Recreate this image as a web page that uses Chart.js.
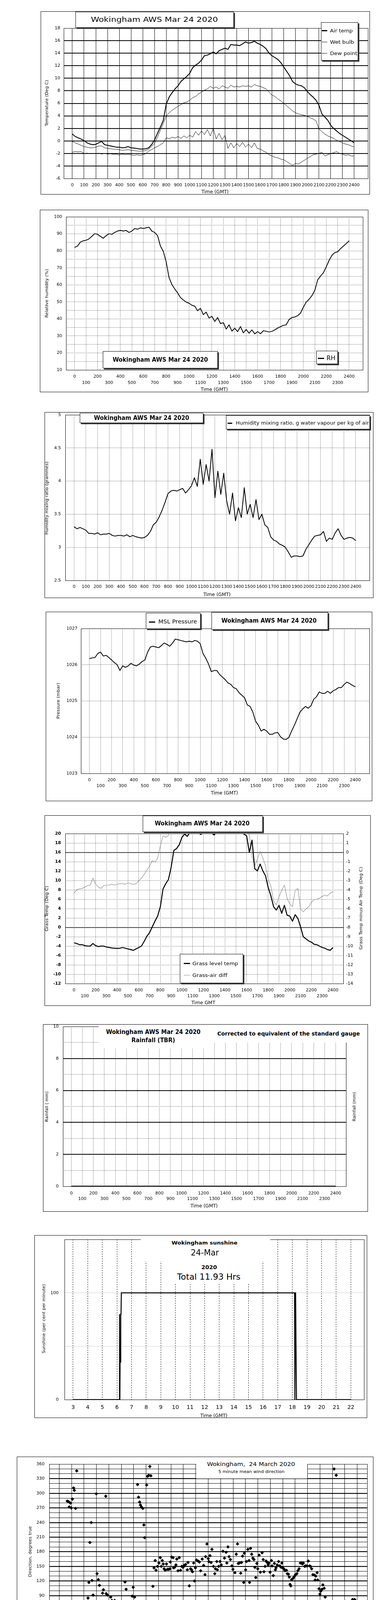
<!DOCTYPE html>
<html>
<head>
<meta charset="utf-8">
<title>Wokingham AWS Mar 24 2020</title>
<script src="https://cdn.jsdelivr.net/npm/chart.js@4.4.1/dist/chart.umd.min.js"></script>
<style>
  html, body { margin:0; padding:0; background:#fff; }
  #stage { position:relative; width:1000px; height:5000px; overflow:hidden; background:#fff; font-family:"DejaVu Sans", Arial, sans-serif; color:#000; }
  .frame { position:absolute; border:1px solid #000; box-sizing:border-box; z-index:0; }
  canvas { position:absolute; z-index:1; }
  .box { position:absolute; background:#fff; box-sizing:border-box; z-index:2; }
  .t { position:absolute; white-space:pre; line-height:1; z-index:3; }
  .sw { position:absolute; z-index:3; }
</style>
</head>
<body>
<div id="stage"></div>
<script>
// ------------------------------------------------------------------
// DATA
// ------------------------------------------------------------------
// time axis categories: quarter-hour steps, in "hour x 100" (0..2400)
const quarterHourTimes = [];
for (let i = 0; i <= 96; i++) quarterHourTimes.push(i * 25);
// same in hours (wind chart)
const quarterHours = [];
for (let i = 0; i <= 96; i++) quarterHours.push(i / 4);
const tenMinuteHours = [];
for (let i = 0; i <= 144; i++) tenMinuteHours.push(i / 6);

// tick labels
const hundredTicks = [0,100,200,300,400,500,600,700,800,900,1000,1100,1200,1300,1400,1500,1600,1700,1800,1900,2000,2100,2200,2300,2400];
const tempTicks = [-6,-4,-2,0,2,4,6,8,10,12,14,16,18];
const rhTicks = [10,15,20,25,30,35,40,45,50,55,60,65,70,75,80,85,90,95,100];
const mixTicks = [2.5,3,3.5,4,4.5,5];
const pressTicks = [1023,1024,1025,1026,1027];
const grassTicks = [-12,-10,-8,-6,-4,-2,0,2,4,6,8,10,12,14,16,18,20];
const diffTicks = [-14,-13,-12,-11,-10,-9,-8,-7,-6,-5,-4,-3,-2,-1,0,1,2];
const rainTicks = [0,1,2,3,4,5,6,7,8,9,10];
const sunHourTicks = [3,4,5,6,7,8,9,10,11,12,13,14,15,16,17,18,19,20,21,22];
const sunTicks = [0,50,100,150];
const dirHourTicks = [0,1,2,3,4,5,6,7,8,9,10,11,12,13,14,15,16,17,18,19,20,21,22,23,24];
const dirTicks = [0,10,20,30,40,50,60,70,80,90,100,110,120,130,140,150,160,170,180,190,200,210,220,230,240,250,260,270,280,290,300,310,320,330,340,350,360];
const speedHourTicks = [0,1,2,3,4,5,6,7,8,9,10,11,12,13,14,15,16,17,18,19,20,21,22,23];
const speedTicks = [0,5,10,15,20,25,30,35,40,45,50];

// Chart 1: temperatures (Deg C), every 15 min
const airTemp = [1.1,0.7,0.5,0.3,0.05,-0.3,-0.5,-0.6,-0.55,-0.3,
 -0.1,-0.6,-0.7,-0.8,-0.9,-1.0,-1.0,-1.1,-1.05,-0.9,
 -1.1,-1.15,-1.2,-1.3,-1.3,-1.25,-1.1,-0.6,0.15,1.2,
 2.2,3.3,5.9,7.0,7.7,8.3,8.8,9.5,9.9,10.3,
 10.8,11.7,12.1,12.4,12.9,13.6,13.7,13.9,14.2,13.9,
 14.4,14.6,14.8,14.6,15.4,15.3,15.3,15.2,15.5,15.8,
 15.6,15.7,15.9,15.6,15.4,15.1,14.7,14.0,13.6,13.3,
 13.0,12.5,11.8,11.1,10.4,9.5,9.1,8.9,8.8,8.5,
 7.9,7.4,7.0,6.5,5.7,4.3,3.8,3.3,2.5,2.0,
 1.6,1.2,0.9,0.6,0.3,0.0,-0.3];
const wetBulb = [-0.1,-0.3,-0.5,-0.7,-0.9,-1.0,-1.1,-1.1,-1.0,-0.8,
 -0.8,-1.1,-1.2,-1.25,-1.3,-1.35,-1.4,-1.5,-1.45,-1.4,
 -1.5,-1.55,-1.6,-1.65,-1.6,-1.55,-1.3,-0.9,-0.4,0.6,
 1.7,2.8,4.0,4.5,4.9,5.2,5.5,5.8,6.1,6.2,
 6.5,6.9,7.1,7.5,7.8,8.1,8.3,8.7,8.4,8.6,
 8.3,8.8,8.6,8.4,8.9,8.6,8.7,8.6,8.8,8.7,
 8.8,8.6,9.0,8.8,8.7,8.5,8.3,7.8,7.3,7.1,
 6.7,6.4,6.0,5.6,5.2,4.8,4.5,4.3,4.2,4.1,
 3.9,3.7,3.5,3.2,1.9,1.5,1.1,0.8,0.6,0.4,
 0.1,-0.1,-0.3,-0.5,-0.6,-0.8,-1.0];
const dewPoint = [-1.8,-1.7,-1.75,-1.7,-2.0,-1.95,-2.05,-2.0,-2.0,-1.95,
 -2.1,-2.0,-2.1,-2.05,-2.15,-2.1,-2.25,-2.1,-2.2,-2.15,
 -2.2,-2.3,-2.2,-2.3,-2.2,-2.05,-1.6,-1.4,-1.1,-0.9,
 -0.6,-0.3,0.5,0.35,0.6,0.45,0.7,0.4,0.8,0.5,
 0.9,0.6,1.5,0.9,1.6,1.0,1.8,0.8,2.0,0.3,
 1.2,0.2,0.9,-1.2,-0.3,-1.1,-0.4,-0.9,-0.2,-1.0,
 -0.5,-1.1,-0.3,-1.2,-1.3,-1.6,-1.8,-2.2,-2.4,-2.6,
 -2.7,-2.9,-3.0,-3.3,-3.6,-3.9,-3.6,-3.7,-3.4,-3.1,
 -2.8,-2.5,-2.2,-2.1,-2.0,-1.8,-2.4,-2.2,-2.0,-1.9,
 -1.7,-2.0,-2.1,-2.3,-2.2,-2.4,-2.4];

// Chart 2: relative humidity (%)
const relHumidity = [82,82.8,85.1,85.9,86.2,87,88.5,90.1,89.7,88.5,
 87.4,88.9,90.1,89.7,90.8,91.6,92,91.6,92,90.8,
 91.6,93.1,92.7,93.5,93.1,93.5,93.9,91.6,90.8,88.9,
 82.8,79.7,73.6,64.4,60.2,57.6,55.3,52.6,51.1,49.9,
 49.2,48,47.5,44.8,46.2,42.5,44.0,40.5,41.5,38.5,
 40.8,37.2,37.8,34.0,36.5,32.8,34.5,32.5,35.5,31.8,
 33.8,31.6,33.5,31.2,32.5,31.3,33.0,32.7,32.3,32.7,
 33.5,34.6,35.4,36.2,36.5,39.6,40.8,41.1,41.9,43.4,
 46.9,49.9,51.5,53.7,56.8,62.9,65.2,67.1,70.6,74.4,
 77.4,79,79.4,81.3,82.8,84.3,85.9];

// Chart 3: humidity mixing ratio (g/kg)
const mixingRatio = [3.31,3.28,3.30,3.28,3.26,3.21,3.21,3.20,3.22,3.19,
 3.20,3.20,3.21,3.18,3.17,3.18,3.18,3.17,3.19,3.16,
 3.18,3.16,3.15,3.14,3.15,3.18,3.24,3.34,3.38,3.46,
 3.56,3.68,3.81,3.85,3.86,3.85,3.87,3.89,3.82,3.87,
 3.93,4.05,3.92,4.33,3.95,4.25,4.0,4.48,3.75,4.15,
 3.8,4.12,3.7,3.5,3.82,3.4,3.6,3.45,3.9,3.5,
 3.65,3.45,3.72,3.42,3.5,3.34,3.30,3.16,3.11,3.09,
 3.05,3.03,3.00,2.93,2.85,2.87,2.87,2.86,2.87,2.97,
 3.04,3.11,3.17,3.18,3.19,3.24,3.09,3.14,3.12,3.22,
 3.28,3.18,3.12,3.14,3.15,3.14,3.10];

// Chart 4: MSL pressure (mbar)
const mslPressure = [1026.17,1026.19,1026.20,1026.31,1026.35,1026.24,1026.26,1026.20,1026.13,1026.06,
 1026.00,1025.84,1025.97,1025.93,1025.97,1026.04,1025.99,1025.97,1026.02,1026.09,
 1026.13,1026.35,1026.49,1026.51,1026.49,1026.47,1026.53,1026.60,1026.56,1026.51,
 1026.60,1026.71,1026.69,1026.67,1026.65,1026.63,1026.65,1026.63,1026.67,1026.65,
 1026.58,1026.31,1026.18,1026.02,1025.81,1025.84,1025.84,1025.73,1025.66,1025.59,
 1025.50,1025.46,1025.37,1025.34,1025.23,1025.16,1025.09,1024.89,1024.85,1024.69,
 1024.44,1024.33,1024.17,1024.22,1024.17,1024.08,1024.08,1024.12,1024.13,1024.01,
 1023.95,1023.94,1023.99,1024.17,1024.33,1024.51,1024.69,1024.78,1024.85,1024.80,
 1024.87,1025.05,1025.12,1025.25,1025.21,1025.21,1025.27,1025.21,1025.28,1025.32,
 1025.37,1025.37,1025.46,1025.52,1025.48,1025.43,1025.39];

// Chart 5: grass temperature (left axis) and grass minus air (right axis)
const grassTemp = [-3.3,-3.45,-3.7,-3.7,-3.9,-4.0,-4.0,-3.45,-3.9,-4.1,
 -4.0,-4.0,-4.2,-4.3,-4.4,-4.45,-4.5,-4.45,-4.3,-4.45,
 -4.6,-4.75,-4.9,-4.6,-4.3,-4.0,-3.0,-1.9,-1.15,0.1,
 1.3,2.4,4.4,8.2,9.3,10.2,12.8,16.4,16.8,17.6,
 19.2,19.9,19.4,20.3,20.2,20.4,20.3,19.8,20.3,20.2,
 20.4,20.1,19.7,20.6,21.0,21.5,21.8,22.0,21.6,21.4,
 21.0,20.8,20.4,19.9,19.5,16.0,18.6,12.5,12.05,13.5,
 12.05,11.0,8.5,6.7,4.4,3.7,4.7,3.0,4.7,2.6,
 2.4,1.3,2.7,1.9,0.1,-2.0,-2.45,-2.9,-3.15,-3.6,
 -3.7,-4.0,-4.3,-4.45,-4.75,-4.9,-4.3];
const grassAirDiff = [-4.35,-4.0,-3.9,-3.85,-3.7,-3.55,-3.5,-2.75,-3.4,-3.7,
 -3.85,-3.55,-3.5,-3.5,-3.4,-3.5,-3.4,-3.35,-3.35,-3.4,
 -3.25,-3.35,-3.4,-3.35,-3.05,-2.75,-2.35,-1.9,-1.45,-0.9,
 -1.05,-0.6,0.7,1.75,1.6,1.8,3.6,5.5,6.0,6.3,
 7.0,7.4,7.6,7.5,7.3,7.0,6.8,6.5,6.3,6.4,
 6.2,6.0,5.8,6.2,6.0,6.1,6.3,6.5,6.2,5.8,
 5.5,5.2,4.8,3.5,2.1,1.9,-0.45,-1.45,-0.7,0.1,
 -0.6,-1.45,-2.9,-3.6,-5.2,-5.6,-4.75,-4.05,-3.5,-4.9,
 -5.5,-5.8,-4.05,-3.85,-6.05,-6.35,-6.05,-5.8,-5.35,-5.05,
 -5.0,-4.9,-4.7,-4.55,-4.65,-4.35,-4.2];

// Chart 6: rainfall (mm) - none recorded
const rainTimes = hundredTicks;
const rainfall = [0,0,0,0,0,0,0,0,0,0,0,0,0,0,0,0,0,0,0,0,0,0,0,0,0];

// Chart 7: sunshine (per cent per minute)
const sunTimes = [3,6.17,6.18,6.2,6.22,6.24,6.26,6.28,6.3,6.33,18.15,18.17,18.2,18.22,18.25,18.28,22];
const sunshine = [0,0,80,0,50,35,80,80,100,100,100,0,100,100,48,0,0];

// Chart 8: 5 minute mean wind direction [hour, degrees]
const windDirObs = [[0,63],[0.06,37],[0.14,35],[0.21,33],[0.29,31],[0.37,35],[0.46,38],[0.56,40],[0.65,284],[0.74,283],
 [0.81,272],[0.9,280],[0.97,270],[1.06,288],[1.16,311],[1.22,306],[1.32,269],[1.41,346],[1.47,50],[1.57,63],
 [1.65,76],[1.74,73],[1.82,77],[1.86,72],[1.97,64],[2.05,60],[2.14,64],[2.22,67],[2.32,85],[2.39,117],
 [2.47,199],[2.58,240],[2.64,121],[2.73,91],[2.84,51],[2.89,13],[2.99,299],[3.05,135],[3.15,123],[3.24,111],
 [3.3,47],[3.39,30],[3.49,95],[3.56,102],[3.65,58],[3.75,294],[3.78,94],[3.89,91],[4.02,74],[4.15,87],
 [4.24,80],[4.31,70],[4.38,78],[4.47,80],[4.55,65],[4.66,63],[4.76,61],[4.83,59],[4.94,51],[5.01,50],
 [5.12,50],[5.22,68],[5.3,118],[5.39,103],[5.48,6],[5.57,38],[5.65,50],[5.72,65],[5.81,70],[5.88,89],
 [5.96,107],[6.07,87],[6.14,74],[6.24,3],[6.31,318],[6.39,292],[6.48,282],[6.54,276],[6.62,272],[6.73,269],
 [6.82,235],[6.88,209],[6.99,15],[7.04,317],[7.12,335],[7.21,337],[7.3,355],[7.38,336],[7.49,60],[7.55,109],
 [7.64,147],[7.73,162],[7.8,142],[7.91,150],[8.03,157],[8.14,168],[8.22,150],[8.3,162],[8.38,155],[8.45,145],
 [8.54,142],[8.64,155],[8.72,144],[8.82,144],[8.92,145],[8.95,159],[9.06,169],[9.17,168],[9.21,147],[9.29,148],
 [9.4,153],[9.47,165],[9.57,141],[9.67,168],[9.77,142],[9.87,150],[9.97,148],[10.06,152],[10.18,154],[10.32,143],
 [10.37,158],[10.48,110],[10.58,145],[10.66,143],[10.73,139],[10.83,157],[10.89,120],[10.97,147],[11.05,163],[11.18,161],
 [11.29,159],[11.39,141],[11.52,165],[11.63,152],[11.74,133],[11.79,170],[11.9,196],[12.0,166],[12.05,160],[12.14,172],
 [12.23,158],[12.3,185],[12.42,150],[12.53,135],[12.58,145],[12.69,160],[12.74,143],[12.84,150],[12.95,160],[13.05,153],
 [13.19,181],[13.31,167],[13.44,179],[13.5,157],[13.59,190],[13.68,170],[13.79,164],[13.91,151],[13.99,144],[14.15,137],
 [14.26,175],[14.36,196],[14.42,156],[14.52,157],[14.62,136],[14.68,158],[14.77,171],[14.86,117],[14.91,177],[15.01,143],
 [15.08,160],[15.19,185],[15.29,162],[15.33,117],[15.41,187],[15.5,175],[15.6,167],[15.68,164],[15.76,148],[15.83,127],
 [15.92,156],[15.99,145],[16.1,173],[16.2,138],[16.34,178],[16.43,164],[16.49,139],[16.58,150],[16.66,161],[16.75,158],
 [16.83,153],[16.88,157],[16.98,138],[17.09,162],[17.14,151],[17.24,131],[17.33,156],[17.41,143],[17.46,147],[17.56,153],
 [17.67,160],[17.77,151],[17.88,148],[17.93,157],[18.0,147],[18.09,145],[18.19,141],[18.3,142],[18.37,135],[18.46,134],
 [18.53,128],[18.59,113],[18.65,110],[18.72,123],[18.82,125],[18.93,129],[19.03,133],[19.14,135],[19.22,141],[19.32,145],
 [19.42,157],[19.51,157],[19.59,155],[19.66,157],[19.77,150],[19.84,151],[19.95,151],[20.06,161],[20.16,151],[20.24,150],
 [20.33,145],[20.43,133],[20.56,132],[20.61,122],[20.66,130],[20.77,137],[20.82,122],[20.92,104],[21.0,93],[21.06,99],
 [21.16,103],[21.23,112],[21.34,105],[21.42,87],[21.5,49],[21.6,34],[21.71,51],[21.76,55],[21.84,45],[21.9,31],
 [21.95,20],[22.07,3],[22.14,350],[22.21,5],[22.31,337],[22.39,64],[22.46,37],[22.51,34],[22.62,32],[22.62,64],
 [22.72,77],[22.83,59],[22.88,30],[22.93,61],[23.02,71],[23.09,64],[23.19,62],[23.27,64],[23.34,75],[23.45,75],
 [23.52,71],[23.63,82],[23.74,66],[23.79,82],[23.86,75]];

// Chart 9: wind speed (knots)
const meanSpeed = [2.2,2.0,1.7,0.8,1.0,1.3,1.6,3.0,4.4,4.0,
 2.0,1.0,0.8,1.3,1.0,0.8,2.2,2.7,2.2,1.3,
 0.8,1.0,0.8,1.7,2.4,1.3,1.7,1.0,0.3,1.0,
 0.8,3.6,5.0,6.4,7.8,9.0,8.3,6.2,5.0,6.0,
 5.3,6.4,6.9,6.0,6.9,6.4,7.8,6.9,6.2,7.6,
 7.1,6.4,6.9,6.4,7.1,6.0,6.4,6.0,5.0,5.5,
 3.6,5.0,4.1,5.7,5.5,6.0,5.7,5.3,5.5,4.3,
 3.6,4.1,3.6,3.9,4.1,3.9,4.6,4.1,4.3,4.6,
 3.9,4.1,5.0,4.3,3.6,2.7,1.7,1.3,1.0,1.3,
 1.0,1.5,2.0,2.4,2.0,1.7,1.6];
const gustSpeed = [2.8,2.5,2.6,2.2,2.0,1.5, 1.4,1.8,2.2,1.2,1.0,2.5, 3.8,5.2,4.0,2.0,1.5,2.4,
 1.2,1.5,2.5,1.8,1.2,2.0, 2.8,9.5,3.5,3.2,2.5,1.8, 1.4,2.2,1.5,1.0,2.0,2.8,
 3.2,2.5,1.6,2.4,1.6,1.0, 0.6,1.5,2.0,2.8,6.0,9.0, 10.5,8.0,11.0,9.0,16.0,10.5,
 12.0,8.0,6.5,9.5,7.0,11.5, 8.0,12.5,9.0,11.0,7.5,10.5, 8.5,13.5,9.0,12.0,8.0,14.0,
 9.5,12.5,8.5,11.5,9.0,13.0, 8.0,11.0,14.5,9.5,12.5,8.5, 11.0,9.0,12.0,8.0,10.0,7.0,
 6.0,9.5,7.5,10.5,8.0,11.0, 7.5,12.0,8.5,10.0,7.5,11.5, 6.5,9.0,5.5,7.5,4.5,7.0,
 5.0,6.5,4.5,7.5,5.0,6.5, 7.5,5.0,6.5,4.5,7.0,5.0, 6.0,4.5,7.5,5.5,8.0,6.0,
 5.5,3.5,3.0,2.2,2.5,1.6, 1.4,1.8,1.2,2.0,1.6,2.2, 2.0,2.6,3.0,2.5,2.2,2.0, 1.8];
// speeds below 4 kt shown at x10 scale [hour, value]
const lowSpeedX10 = [[0,24.9],[0.03,23.6],[0.06,22.9],[0.08,22.0],[0.1,21.4],[0.13,20.5],[0.15,19.6],[0.18,18.7],[0.22,18.3],[0.28,17.6],
 [0.33,17.2],[0.38,16.5],[0.43,15.5],[0.49,14.6],[0.56,14.1],[0.61,13.5],[0.66,12.8],[0.67,10.4],[0.69,9.1],[0.71,7.3],
 [0.74,6.0],[0.76,4.7],[0.79,6.7],[0.82,7.3],[0.87,6.0],[0.95,7.8],[1.0,9.1],[1.03,11.7],[1.05,13.9],[1.08,14.6],
 [1.1,13.0],[1.12,10.8],[1.15,10.0],[1.2,8.4],[1.25,8.6],[1.3,8.0],[1.35,7.6],[1.41,6.9],[1.46,6.0],[1.49,5.1],
 [1.53,4.3],[1.56,3.4],[1.59,2.5],[1.61,10.4],[1.64,13.7],[1.66,15.0],[1.67,16.8],[1.69,18.3],[1.71,20.5],[1.73,22.3],
 [1.76,23.1],[1.79,24.0],[1.83,25.8],[1.86,26.9],[1.89,29.3],[1.92,30.6],[1.94,31.5],[1.97,33.2],[2.0,34.5],[2.05,36.3],
 [2.07,38.1],[2.28,39.2],[2.31,37.6],[2.32,34.5],[2.35,31.5],[2.36,29.5],[2.39,27.3],[2.4,25.3],[2.41,23.1],[2.42,20.7],
 [2.43,18.5],[2.45,17.0],[2.48,16.5],[2.49,14.8],[2.53,13.7],[2.58,11.7],[2.61,9.7],[2.63,8.2],[2.65,6.9],[2.68,5.6],
 [2.71,4.5],[2.74,3.8],[2.76,14.1],[2.79,16.8],[2.82,18.3],[2.86,19.6],[2.89,20.9],[2.94,21.4],[2.99,19.6],[3.02,17.9],
 [3.04,14.8],[3.06,12.4],[3.09,10.0],[3.14,9.1],[3.2,8.0],[3.25,9.7],[3.3,10.2],[3.35,9.5],[3.4,10.8],[3.45,12.2],
 [3.5,13.5],[3.53,14.6],[3.55,11.5],[3.57,9.3],[3.6,7.8],[3.66,6.5],[3.71,5.4],[3.72,9.7],[3.76,12.2],[3.81,13.3],
 [3.86,13.7],[3.91,14.6],[3.94,16.1],[3.96,17.6],[4.01,19.2],[4.04,20.1],[4.06,20.9],[4.12,21.2],[4.17,22.3],[4.22,23.1],
 [4.27,24.5],[4.32,24.9],[4.37,25.8],[4.4,26.6],[4.45,27.3],[4.49,28.2],[4.55,29.3],[4.6,28.6],[4.66,27.5],[4.69,26.4],
 [4.73,24.9],[4.76,22.7],[4.78,20.9],[4.79,18.7],[4.8,17.2],[4.83,15.7],[4.87,14.4],[4.89,13.0],[4.94,11.7],[4.99,11.5],
 [5.04,12.6],[5.07,13.9],[5.09,15.0],[5.14,13.0],[5.19,9.7],[5.24,8.6],[5.27,6.9],[5.29,6.7],[5.34,7.8],[5.4,9.1],
 [5.42,10.0],[5.48,9.5],[5.5,8.2],[5.55,6.9],[5.58,5.6],[5.6,4.3],[5.63,11.7],[5.68,14.4],[5.7,16.1],[5.73,17.4],
 [5.78,18.5],[5.8,20.5],[5.83,22.3],[5.85,23.6],[5.88,24.5],[5.91,25.3],[5.96,26.0],[5.99,24.0],[6.01,22.0],[6.03,20.3],
 [6.06,19.2],[6.11,18.5],[6.14,17.9],[6.16,17.0],[6.19,15.7],[6.21,14.4],[6.23,13.3],[6.26,11.7],[6.29,10.0],[6.31,8.6],
 [6.34,7.3],[6.37,6.0],[6.4,4.7],[6.42,8.9],[6.45,11.1],[6.47,13.0],[6.5,14.8],[6.54,16.5],[6.59,18.1],[6.62,17.4],
 [6.67,16.1],[6.7,14.6],[6.72,13.7],[6.77,13.0],[6.81,11.5],[6.83,10.2],[6.85,9.1],[6.88,7.8],[6.91,6.5],[6.93,5.4],
 [6.95,4.5],[6.98,3.4],[7.01,2.5],[7.08,4.7],[7.13,6.5],[7.18,8.0],[7.23,9.7],[7.29,11.1],[7.34,12.4],[7.35,13.0],
 [7.39,10.5],[7.44,9.1],[7.49,7.8],[7.54,6.7],[7.59,5.6],[7.64,4.7],[7.69,14.8],[7.7,16.8],[7.72,19.8],[7.73,21.6],
 [7.76,25.3],[7.77,28.8],[7.78,34.5],[7.83,39.8],
 [14.91,39.1],[14.93,35.3],[14.97,38.2],[14.97,37.0],[14.97,32.8],[14.97,31.6],[15.5,39.1],[15.5,37.9],[15.5,37.0],
 [17.18,38.8],[17.22,37.2],[17.26,36.0],[17.61,38.4],[17.65,37.5],[17.61,35.8],[17.71,39.1],[17.81,39.7],[17.96,39.8],[18.04,37.5],
 [18.04,35.3],[18.1,34.2],[18.1,33.0],[18.2,36.5],[18.2,38.6],[18.3,39.6],[18.4,40.0],[18.49,39.1],[18.59,37.0],[18.59,35.8],
 [18.69,37.7],[18.75,39.1],[18.79,39.6],[19.14,40.0],[19.22,39.1],[19.28,37.7],[19.33,36.5],[19.37,35.1],[19.41,33.9],[19.47,37.9],
 [19.47,39.9],[19.86,39.8],[20.0,38.6],[20.12,37.5],[20.16,34.6],[20.2,33.2],[20.25,31.6],[20.31,36.3],[20.35,37.9],[20.74,38.6],
 [20.78,37.2],[20.84,35.3],[20.9,34.2],[20.94,33.2],[20.98,32.0],[21.04,29.9],[21.04,28.5],[21.1,27.1],[21.13,25.2],[21.13,23.8],
 [21.19,22.4],[21.29,27.6],[21.33,26.2],[21.37,24.3],[21.43,22.4],[21.49,21.0],[21.53,19.4],[21.57,18.0],[21.62,16.8],[21.68,14.9],
 [21.72,13.5],[21.76,12.1],[21.82,10.7],[21.92,12.5],[22.02,11.1],[22.11,9.7],[22.17,8.3],[22.21,7.1],[22.31,13.9],[22.41,7.3],
 [22.47,5.5],[22.5,4.1],[22.6,9.0],[22.66,13.5],[22.74,12.1],[22.8,10.7],[22.9,12.1],[22.94,13.9],[23.0,15.8],[23.05,17.2],
 [23.13,18.7],[23.19,20.1],[23.25,21.5],[23.33,22.2],[23.39,21.0],[23.48,19.6],[23.58,18.7],[23.68,17.7],[23.78,19.6],[23.84,18.4],
 [23.91,16.8],[23.97,15.1],[23.97,14.2]];

// ------------------------------------------------------------------
// HELPERS
// ------------------------------------------------------------------
const FF = '"DejaVu Sans", Arial, sans-serif';
Chart.defaults.font.family = FF;
Chart.defaults.color = '#000';
const stage = document.getElementById('stage');

Chart.register({
  id: 'hlines',
  beforeDatasetsDraw(chart, args, opts) {
    const lines = opts && opts.lines; if (!lines) return;
    const {ctx, chartArea: a} = chart; const sc = chart.scales[opts.scale || 'y'];
    ctx.save();
    for (const l of lines) {
      const w = l.w || 1;
      const y = Math.round(sc.getPixelForValue(l.v)) + (w % 2 ? 0.5 : 0);
      ctx.beginPath(); ctx.lineWidth = w; ctx.strokeStyle = l.c || '#000'; ctx.setLineDash([]);
      ctx.moveTo(a.left, y); ctx.lineTo(a.right, y); ctx.stroke();
    }
    ctx.restore();
  }
});
Chart.register({
  id: 'plotFrame',
  afterDraw(chart) {
    const {ctx, chartArea: a} = chart;
    ctx.save(); ctx.strokeStyle = '#000'; ctx.lineWidth = 1; ctx.setLineDash([]);
    const l = Math.round(a.left), t = Math.round(a.top), r = Math.round(a.right), b = Math.round(a.bottom);
    ctx.strokeRect(l + 0.5, t + 0.5, r - l, b - t);
    ctx.restore();
  }
});

const pts = (xs, ys) => ys.map((y, i) => ({x: xs[i], y}));
const pairPts = arr => arr.map(p => ({x: p[0], y: p[1]}));
function lineDs(data, color, width, extra) {
  return Object.assign({data, showLine: true, borderColor: color, backgroundColor: color, borderWidth: width,
    pointRadius: 0, pointHoverRadius: 0, fill: false, tension: 0, borderJoinStyle: 'round'}, extra || {});
}
function ax(o) {
  return {
    type: 'linear', position: o.pos, min: o.min, max: o.max, bounds: 'data',
    afterBuildTicks: s => { s.ticks = o.ticks.map(v => ({value: v})); },
    ticks: {autoSkip: false, maxRotation: 0, minRotation: 0, padding: o.pad, color: '#000',
      font: {family: FF, size: o.size || 11, weight: o.bold ? 'bold' : 'normal', lineHeight: o.lh || 1.2},
      callback: o.label || (v => String(v))},
    grid: {display: o.grid !== false, drawTicks: false, color: o.gc || '#000', lineWidth: o.gw === undefined ? 1 : o.gw},
    border: {display: false, dash: o.dash || []}
  };
}
function options(scales, plugins) {
  return {responsive: false, animation: false, events: [], scales,
    plugins: Object.assign({legend: {display: false}, tooltip: {enabled: false}}, plugins || {})};
}
const PAD = 14;
function place(frame, plot, cfg, hasY2) {
  const cx = frame[0] - PAD, cy = frame[1] - PAD, cw = frame[2] - frame[0] + 2 * PAD, ch = frame[3] - frame[1] + 2 * PAD;
  const cv = document.createElement('canvas');
  cv.width = cw; cv.height = ch;
  Object.assign(cv.style, {left: cx + 'px', top: cy + 'px', width: cw + 'px', height: ch + 'px'});
  stage.appendChild(cv);
  cfg.options.layout = {padding: {left: 0, top: plot[1] - cy, right: hasY2 ? 0 : (cx + cw - plot[2]), bottom: 0}};
  cfg.options.scales.x.afterFit = s => { s.height = cy + ch - plot[3]; };
  cfg.options.scales.y.afterFit = s => { s.width = plot[0] - cx; };
  if (hasY2) cfg.options.scales.y2.afterFit = s => { s.width = cx + cw - plot[2]; };
  return new Chart(cv, cfg);
}
function el(cls, css) { const d = document.createElement('div'); d.className = cls; Object.assign(d.style, css); stage.appendChild(d); return d; }
function frameBox(x1, y1, x2, y2) { el('frame', {left: x1 + 'px', top: y1 + 'px', width: (x2 - x1) + 'px', height: (y2 - y1) + 'px'}); }
function box(x1, y1, x2, y2, shadow, border) {
  el('box', {left: x1 + 'px', top: y1 + 'px', width: (x2 - x1) + 'px', height: (y2 - y1) + 'px',
    border: border === false ? 'none' : '1px solid #000', boxShadow: shadow ? '3px 3px 0 #3a3a3a' : 'none'});
}
function swatch(x1, y, x2, w, color) { el('sw', {left: x1 + 'px', top: (y - w / 2) + 'px', width: (x2 - x1) + 'px', height: w + 'px', background: color || '#000'}); }
function text(s, x, y, o) {
  o = o || {};
  const d = el('t', {left: x + 'px', top: y + 'px', fontSize: (o.size || 11) + 'px', fontWeight: o.bold ? 'bold' : 'normal'});
  d.textContent = s;
  const sx = o.w ? (o.w / d.offsetWidth) : 1;
  if (o.rot) d.style.transform = 'translate(-50%,-50%) rotate(-90deg) scaleX(' + sx + ')';
  else if (o.left) { d.style.transformOrigin = '0 50%'; d.style.transform = 'translate(0,-50%) scaleX(' + sx + ')'; }
  else d.style.transform = 'translate(-50%,-50%) scaleX(' + sx + ')';
}
const oneRow = v => String(v);
const twoRow = v => ((v / 100) % 2 === 0 ? String(v) : ['', String(v)]);
const DOT = [1, 2];

// ------------------------------------------------------------------
// CHART 1 : temperatures
// ------------------------------------------------------------------
frameBox(104, 29, 946, 498);
place([104, 29, 946, 498], [163, 72, 941, 457], {
  type: 'scatter',
  data: {datasets: [
    lineDs(pts(quarterHourTimes, airTemp), '#000', 2.2),
    lineDs(pts(quarterHourTimes, wetBulb), '#000', 1),
    lineDs(pts(quarterHourTimes, dewPoint), '#000', 1)
  ]},
  options: options({
    x: ax({pos: 'bottom', min: -73, max: 2517, ticks: hundredTicks, pad: 11, lh: '13px', label: oneRow}),
    y: ax({pos: 'left', min: -6, max: 18, ticks: tempTicks, pad: 9,
      gw: c => (c.tick && (c.tick.value <= -6 || c.tick.value >= 18)) ? 0 : 2})
  })
});
box(193, 30, 598, 71, true);
text('Wokingham AWS Mar 24 2020', 395, 50, {size: 18, w: 325});
box(821, 57, 916, 155, true);
swatch(823, 78, 837, 3); text('Air temp', 844, 78, {size: 13, left: true, w: 58});
swatch(823, 107, 837, 1); text('Wet bulb', 844, 107, {size: 13, left: true, w: 62});
swatch(823, 136, 837, 1); text('Dew point', 844, 136, {size: 13, left: true, w: 70});
text('Temperature (Deg C)', 119, 264, {rot: true, w: 118});
text('Time (GMT)', 550, 491, {size: 12, w: 70});

// ------------------------------------------------------------------
// CHART 2 : relative humidity
// ------------------------------------------------------------------
frameBox(102, 537, 942, 1004);
place([102, 537, 942, 1004], [169, 555, 928, 947], {
  type: 'scatter',
  data: {datasets: [lineDs(pts(quarterHourTimes, relHumidity), '#000', 2)]},
  options: options({
    x: ax({pos: 'bottom', min: -75, max: 2520, ticks: hundredTicks, pad: 9, lh: '16px', label: twoRow, dash: DOT}),
    y: ax({pos: 'left', min: 10, max: 100, ticks: rhTicks, pad: 10, dash: DOT, label: v => (v % 10 === 0 ? String(v) : '')})
  })
});
box(263, 899, 557, 943, true);
text('Wokingham AWS Mar 24 2020', 410, 921, {size: 15, bold: true, w: 244});
box(809, 898, 864, 932, true);
swatch(813, 917, 829, 3); text('RH', 835, 917, {size: 15, left: true, w: 23});
text('Relative humidity (%)', 119, 751, {rot: true, w: 125});
text('Time (GMT)', 548, 997, {size: 12, w: 70});

// ------------------------------------------------------------------
// CHART 3 : mixing ratio
// ------------------------------------------------------------------
frameBox(114, 1055, 955, 1531);
place([114, 1055, 955, 1531], [167, 1062, 945, 1486], {
  type: 'scatter',
  data: {datasets: [lineDs(pts(quarterHourTimes, mixingRatio), '#000', 2)]},
  options: options({
    x: ax({pos: 'bottom', min: -75, max: 2517, ticks: hundredTicks, pad: 10, lh: '13px', label: oneRow, dash: DOT}),
    y: ax({pos: 'left', min: 2.5, max: 5, ticks: mixTicks, pad: 11, dash: DOT})
  })
});
box(204, 1057, 520, 1083, true);
text('Wokingham AWS Mar 24 2020', 362, 1070, {size: 15, bold: true, w: 244});
box(578, 1063, 946, 1099, true);
swatch(582, 1083, 594, 3); text('Humidity mixing ratio, g water vapour per kg of air', 603, 1083, {size: 12, left: true, w: 340});
text('Humidity mixing ratio (grammes)', 119, 1275, {rot: true, w: 187});
text('Time (GMT)', 555, 1522, {size: 12, w: 70});

// ------------------------------------------------------------------
// CHART 4 : pressure
// ------------------------------------------------------------------
frameBox(117, 1566, 952, 2051);
place([117, 1566, 952, 2051], [207, 1609, 945, 1980], {
  type: 'scatter',
  data: {datasets: [lineDs(pts(quarterHourTimes, mslPressure), '#000', 2)]},
  options: options({
    x: ax({pos: 'bottom', min: -77, max: 2528, ticks: hundredTicks, pad: 10, lh: '15px', label: twoRow, dash: DOT}),
    y: ax({pos: 'left', min: 1023, max: 1027, ticks: pressTicks, pad: 9, dash: DOT})
  })
});
box(373, 1569, 513, 1610, true);
swatch(381, 1592, 397, 3); text('MSL Pressure', 405, 1591, {size: 14, left: true, w: 99});
box(541, 1567, 839, 1612, true);
text('Wokingham AWS Mar 24 2020', 688, 1589, {size: 15, bold: true, w: 244});
text('Pressure (mbar)', 149, 1794, {rot: true, w: 92});
text('Time (GMT)', 574, 2030, {size: 12, w: 70});

// ------------------------------------------------------------------
// CHART 5 : grass temperature
// ------------------------------------------------------------------
frameBox(114, 2087, 948, 2575);
place([114, 2087, 948, 2575], [167, 2134, 878, 2518], {
  type: 'scatter',
  data: {datasets: [
    lineDs(pts(quarterHourTimes, grassTemp), '#000', 2.5, {yAxisID: 'y'}),
    lineDs(pts(quarterHourTimes, grassAirDiff), '#8a8a8a', 1.2, {yAxisID: 'y2'})
  ]},
  options: options({
    x: ax({pos: 'bottom', min: -81, max: 2496, ticks: hundredTicks, pad: 10, lh: '15px', label: twoRow, dash: DOT}),
    y: ax({pos: 'left', min: -12, max: 20, ticks: grassTicks, pad: 11, bold: true, dash: DOT}),
    y2: ax({pos: 'right', min: -14, max: 2, ticks: diffTicks, pad: 7, grid: false})
  }, {hlines: {scale: 'y', lines: [{v: 0, w: 1.5}, {v: 16, w: 1.5}]}})
}, true);
box(365, 2088, 672, 2130, true);
text('Wokingham AWS Mar 24 2020', 517, 2108, {size: 15, bold: true, w: 243});
box(460, 2442, 622, 2517, true);
swatch(470, 2466, 486, 3); text('Grass level temp', 492, 2466, {size: 13, left: true, w: 117});
swatch(470, 2496, 486, 1, '#8a8a8a'); text('Grass-air diff', 492, 2496, {size: 13, left: true, w: 90});
text('Grass Temp (Deg C)', 119, 2326, {rot: true, w: 117});
text('Grass Temp minus Air Temp (Deg C)', 923, 2325, {rot: true, w: 212});
text('Time GMT', 520, 2567, {size: 12, w: 61});

// ------------------------------------------------------------------
// CHART 6 : rainfall
// ------------------------------------------------------------------
frameBox(110, 2622, 941, 3102);
place([110, 2622, 941, 3102], [161, 2628, 885, 3037], {
  type: 'scatter',
  data: {datasets: [lineDs(pts(rainTimes, rainfall), '#000', 3)]},
  options: options({
    x: ax({pos: 'bottom', min: -76, max: 2494, ticks: hundredTicks, pad: 11, lh: '14px', label: twoRow, dash: DOT}),
    y: ax({pos: 'left', min: 0, max: 10, ticks: rainTicks, pad: 11, dash: DOT, label: v => (v % 2 === 0 ? String(v) : '')})
  }, {hlines: {scale: 'y', lines: [{v: 2, w: 2}, {v: 4, w: 2}, {v: 6, w: 2}, {v: 8, w: 2}]}})
});
box(252, 2627, 536, 2683, false, false);
box(536, 2627, 935, 2669, false, false);
text('Wokingham AWS Mar 24 2020', 392, 2642, {size: 15, bold: true, w: 242});
text('Rainfall (TBR)', 392, 2663, {size: 15, bold: true, w: 112});
text('Corrected to equivalent of the standard gauge', 738, 2646, {size: 14, bold: true, w: 365});
text('Rainfall ( mm)', 119, 2833, {rot: true, w: 78});
text('Rainfall (mm)', 906, 2833, {rot: true, w: 75});
text('Time (GMT)', 522, 3087, {size: 12, w: 70});

// ------------------------------------------------------------------
// CHART 7 : sunshine
// ------------------------------------------------------------------
frameBox(88, 3162, 939, 3630);
place([88, 3162, 939, 3630], [165, 3173, 931, 3583], {
  type: 'scatter',
  data: {datasets: [lineDs(pts(sunTimes, sunshine), '#000', 2.5, {borderJoinStyle: 'miter'})]},
  options: options({
    x: ax({pos: 'bottom', min: 2.414, max: 22.9, ticks: sunHourTicks, pad: 12, size: 14, lh: '17px', dash: [3, 3]}),
    y: ax({pos: 'left', min: 0, max: 150, ticks: sunTicks, pad: 15, dash: [1, 1],
      label: v => ((v === 0 || v === 100) ? String(v) : ''),
      gc: c => (c.tick && (c.tick.value === 50 || c.tick.value === 100)) ? '#a0a0a0' : 'rgba(0,0,0,0)'})
  })
});
box(360, 3172, 691, 3229, false, false);
box(418, 3229, 666, 3286, false, false);
text('Wokingham sunshine', 523, 3181, {size: 13, bold: true, w: 168});
text('24-Mar', 524, 3207, {size: 21, w: 72});
text('2020', 535, 3244, {size: 14, bold: true, w: 40});
text('Total 11.93 Hrs', 534, 3269, {size: 21, w: 162});
text('Sunshine (per cent per minute)', 112, 3376, {rot: true, w: 177});
text('Time (GMT)', 547, 3624, {size: 12, w: 70});

// ------------------------------------------------------------------
// CHART 8 : wind direction
// ------------------------------------------------------------------
frameBox(43, 3729, 955, 4245);
place([43, 3729, 955, 4245], [126, 3748, 939, 4197], {
  type: 'scatter',
  data: {datasets: [{data: pairPts(windDirObs), pointStyle: 'rectRot', pointRadius: 4.2, pointHoverRadius: 4.2,
    backgroundColor: '#000', borderColor: '#000', borderWidth: 0.5, showLine: false}]},
  options: options({
    x: ax({pos: 'bottom', min: -0.8, max: 24.8, ticks: dirHourTicks, pad: 11, lh: '13px'}),
    y: ax({pos: 'left', min: 0, max: 360, ticks: dirTicks, pad: 12,
      label: v => (v % 30 === 0 ? String(v) : ''),
      gw: c => (!c.tick || c.tick.value <= 0 || c.tick.value >= 360) ? 0 : (c.tick.value % 30 === 0 ? 2.2 : 1)})
  })
});
box(502, 3736, 786, 3785, false, false);
text('Wokingham,  24 March 2020', 642, 3748, {size: 14, w: 225});
text('5 minute mean wind direction', 643, 3767, {size: 11, w: 169});
text('Direction, degrees true', 77, 3972, {rot: true, w: 130});
text('Time (GMT)', 532, 4232, {size: 12, w: 70});

// ------------------------------------------------------------------
// CHART 9 : wind speed
// ------------------------------------------------------------------
frameBox(46, 4272, 957, 4766);
const hhmm = v => { const s = (v < 10 ? '0' : '') + v + ':00'; return v % 2 === 0 ? s : ['', s]; };
place([46, 4272, 957, 4766], [104, 4314, 952, 4694], {
  type: 'scatter',
  data: {datasets: [
    lineDs(pts(quarterHours, meanSpeed), '#000', 2),
    lineDs(pts(tenMinuteHours, gustSpeed), '#444', 1),
    {data: pairPts(lowSpeedX10), pointStyle: 'rectRot', pointRadius: 3.6, pointHoverRadius: 3.6,
      backgroundColor: '#c4c4c4', borderColor: '#1a1a1a', borderWidth: 0.8, showLine: false}
  ]},
  options: options({
    x: ax({pos: 'bottom', min: -0.72, max: 25.29, ticks: speedHourTicks, pad: 11, lh: '14px', label: hhmm, dash: DOT}),
    y: ax({pos: 'left', min: 0, max: 50, ticks: speedTicks, pad: 12, dash: DOT, label: v => (v % 10 === 0 ? String(v) : '')})
  })
});
text('Wokingham,  24 March 2020', 273, 4294, {size: 16, w: 227});
text('Wind speed, 10 min mean / max gust', 580, 4284, {size: 12, w: 217});
text('Speeds below 4 kt shown at x10 scale', 580, 4301, {size: 12, w: 207});
box(733, 4278, 952, 4303, true);
swatch(765, 4291, 774, 2); text('Speed x 1', 783, 4291, {size: 9, left: true, w: 46});
el('sw', {left: '853px', top: '4287px', width: '6px', height: '6px', background: '#c4c4c4', border: '1px solid #1a1a1a', transform: 'rotate(45deg)'});
text('Speed / 10', 869, 4291, {size: 9, left: true, w: 51});
text('Speed (knots)', 59, 4504, {rot: true, w: 79});
text('Time (GMT)', 528, 4744, {size: 12, w: 70});
</script>
</body>
</html>
